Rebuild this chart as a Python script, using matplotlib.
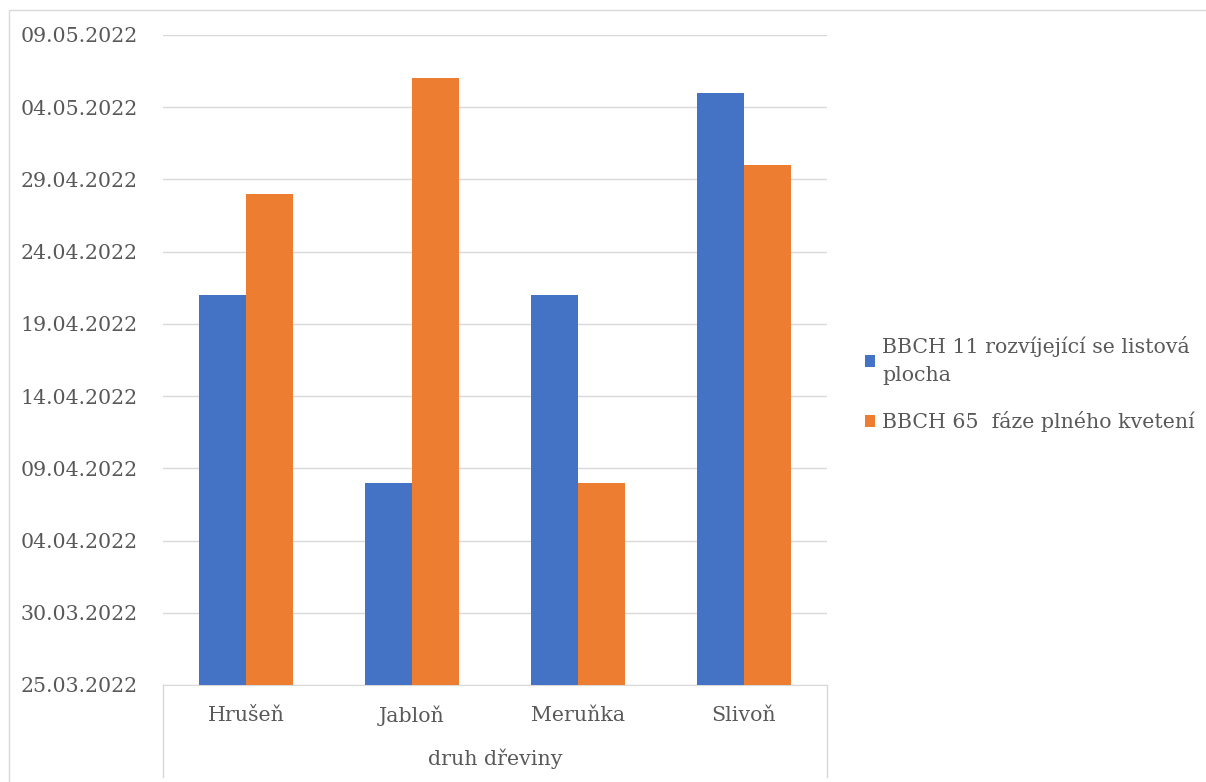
"""Phenology of fruit trees in 2022: leaf unfolding vs. full flowering."""

import datetime as dt
import numpy as np
import matplotlib.pyplot as plt
import matplotlib.dates as mdates
from matplotlib.patches import Rectangle

species = ["Hrušeň", "Jabloň", "Meruňka", "Slivoň"]
bbch11 = ["2022-04-21", "2022-04-08", "2022-04-21", "2022-05-05"]
bbch65 = ["2022-04-28", "2022-05-06", "2022-04-08", "2022-04-30"]
labels = ["BBCH 11 rozvíjející se listová\nplocha", "BBCH 65  fáze plného kvetení"]
colors = ["#4472C4", "#ED7D31"]

y_min = mdates.date2num(dt.date(2022, 3, 25))
y_max = mdates.date2num(dt.date(2022, 5, 9))

plt.rcParams["font.family"] = ["DejaVu Serif"]
text_col = "#595959"
grid_col = "#d9d9d9"
fs = 14.8

fig = plt.figure(figsize=(12.06, 7.82), dpi=100)
ax = fig.add_axes([163/1206, 1 - 685/782, 664/1206, 650/782])

x = np.arange(len(species))
w = 0.283
bars = []
for i, (vals, c) in enumerate(zip([bbch11, bbch65], colors)):
    v = mdates.date2num([dt.date.fromisoformat(s) for s in vals])
    b = ax.bar(x + (i - 0.5)*w, v - y_min, bottom=y_min, width=w, color=c, zorder=3)
    bars.append(b)

ax.set_xlim(-0.5, len(species) - 0.5)
ax.set_ylim(y_min, y_max)
ax.set_yticks(np.arange(y_min, y_max + 1, 5))
ax.yaxis.set_major_formatter(mdates.DateFormatter("%d.%m.%Y"))
ax.grid(axis="y", color=grid_col, linewidth=1, zorder=0)
ax.set_xticks(x)
ax.set_xticklabels(species)
ax.tick_params(axis="both", length=0, labelsize=fs, colors=text_col)
ax.tick_params(axis="y", pad=18)
ax.tick_params(axis="x", pad=15)
for side in ["top", "right", "left"]:
    ax.spines[side].set_visible(False)
ax.spines["bottom"].set_color(grid_col)
ax.set_xlabel("druh dřeviny", fontsize=fs, color=text_col, labelpad=16)

# category axis box lines going down
for xf in [163, 827]:
    fig.add_artist(plt.Line2D([xf/1206]*2, [1 - 685/782, 1 - 777/782],
                              color=grid_col, linewidth=1))

# chart border
fig.add_artist(Rectangle((9/1206, -0.1), 1.2, 1 - 10/782 + 0.1,
                         transform=fig.transFigure, fill=False,
                         edgecolor=grid_col, linewidth=1))

leg = fig.legend(bars, labels, loc="upper left", bbox_to_anchor=(846/1206, 1 - 318/782),
                 frameon=False, fontsize=fs, handlelength=0.5, handleheight=0.5,
                 handletextpad=0.35, labelspacing=1.25, labelcolor=text_col)
for t in leg.get_texts():
    t.set_linespacing(1.6)

fig.savefig("out.png", dpi=100)
